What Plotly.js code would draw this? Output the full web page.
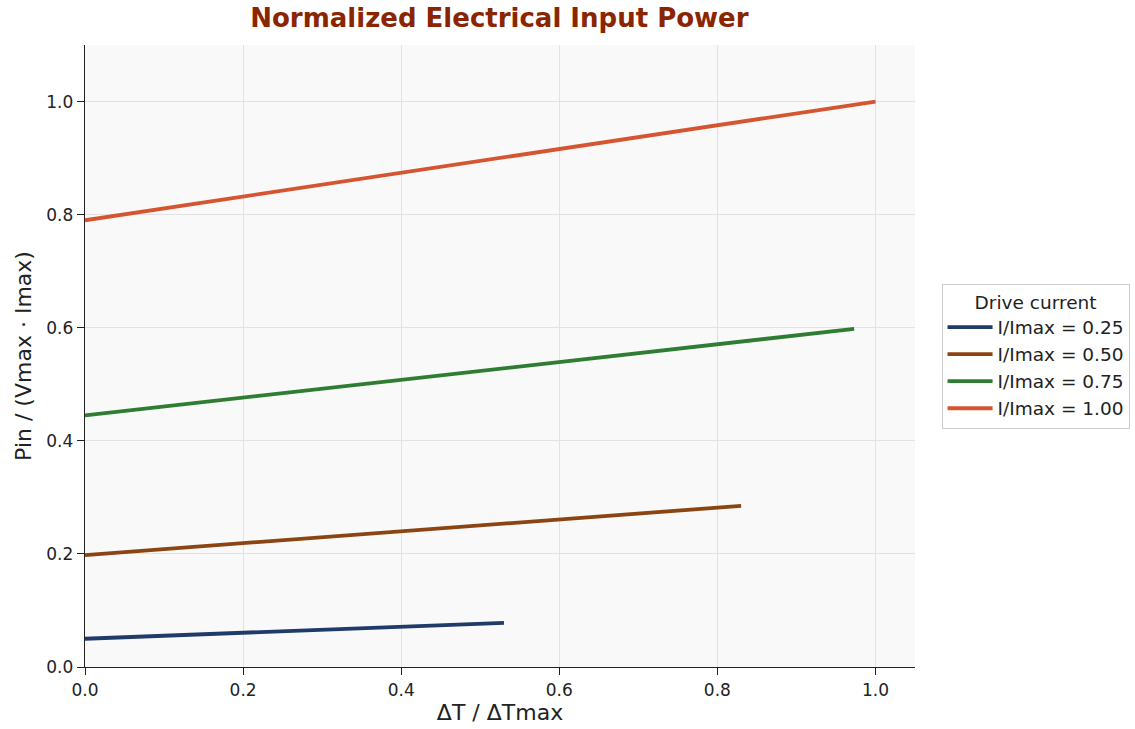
<!DOCTYPE html>
<html>
<head>
<meta charset="utf-8">
<script src="https://cdn.plot.ly/plotly-3.0.1.min.js"></script>
<style>html,body{margin:0;padding:0;background:#fff;}#chart{width:1135px;height:729px;}</style>
</head>
<body>
<div id="chart"></div>
<script>
const seriesNames = ["I/Imax = 0.25", "I/Imax = 0.50", "I/Imax = 0.75", "I/Imax = 1.00"];
const dT_025 = [0.0, 0.265, 0.53];
const pin_025 = [0.050, 0.064, 0.078];
const dT_050 = [0.0, 0.415, 0.83];
const pin_050 = [0.198, 0.241, 0.285];
const dT_075 = [0.0, 0.486, 0.973];
const pin_075 = [0.445, 0.521, 0.598];
const dT_100 = [0.0, 0.5, 1.0];
const pin_100 = [0.790, 0.895, 1.000];
const colors = ["#1f3a6b", "#8b4513", "#2e7d32", "#d4552f"];
const xs = [dT_025, dT_050, dT_075, dT_100];
const ys = [pin_025, pin_050, pin_075, pin_100];

const traces = seriesNames.map((n, i) => ({
  x: xs[i], y: ys[i], name: n, type: "scatter", mode: "lines",
  line: {color: colors[i], width: 3.8}
}));

const font = "DejaVu Sans, sans-serif";
const layout = {
  width: 1135, height: 729,
  margin: {l: 85, r: 220, t: 45, b: 62, autoexpand: false},
  paper_bgcolor: "#ffffff",
  plot_bgcolor: "#f9f9f9",
  font: {family: font, size: 17, color: "#222"},
  title: {text: "<b>Normalized Electrical Input Power</b>", font: {family: font, size: 26, color: "#8b2500"}, x: 0.44, xanchor: "center", y: 0.975, yanchor: "middle"},
  xaxis: {
    range: [0, 1.05], dtick: 0.2, tick0: 0, tickformat: ".1f",
    showgrid: true, gridcolor: "#e2e2e2", gridwidth: 1,
    showline: true, linecolor: "#222", linewidth: 1.3,
    ticks: "outside", ticklen: 7, tickcolor: "#222",
    zeroline: false,
    title: {text: "ΔT / ΔTmax", font: {family: font, size: 22}, standoff: 6},
    tickfont: {family: font, size: 17}
  },
  yaxis: {
    range: [0, 1.1], dtick: 0.2, tick0: 0, tickformat: ".1f",
    showgrid: true, gridcolor: "#e2e2e2", gridwidth: 1,
    showline: true, linecolor: "#222", linewidth: 1.3,
    ticks: "outside", ticklen: 7, tickcolor: "#222",
    zeroline: false,
    title: {text: "Pin / (Vmax · Imax)", font: {family: font, size: 22}, standoff: 8},
    tickfont: {family: font, size: 17}
  },
  legend: {
    x: 1.032, xanchor: "left", y: 0.5, yanchor: "middle",
    bgcolor: "#ffffff", bordercolor: "#cccccc", borderwidth: 1,
    font: {family: font, size: 18.5},
    title: {text: "Drive current", side: "top center", font: {family: font, size: 18.5}},
    itemwidth: 45,
    tracegroupgap: 0
  },
  showlegend: true
};
Plotly.newPlot("chart", traces, layout, {displayModeBar: false, staticPlot: true});
</script>
</body>
</html>
